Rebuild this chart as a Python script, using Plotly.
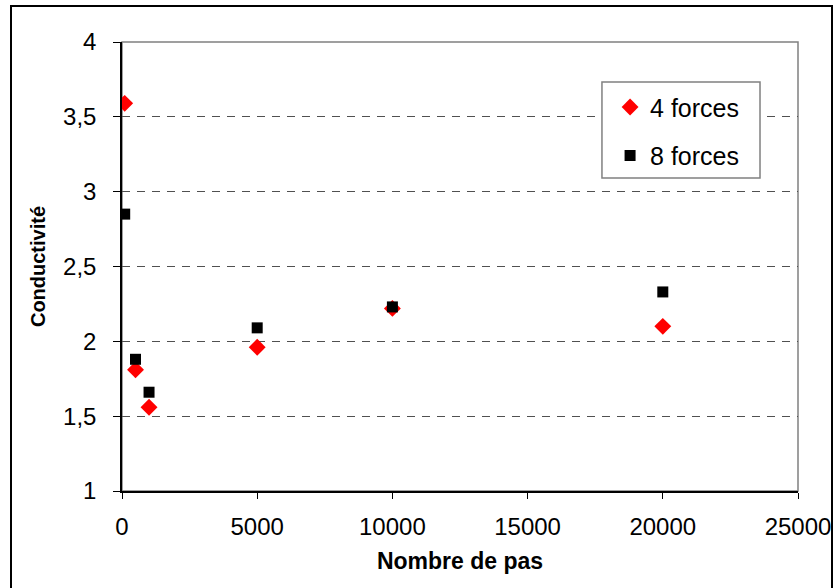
import plotly.graph_objects as go

# =============== data
pas = [100, 500, 1000, 5000, 10000, 20000]
cond_4f = [3.59, 1.81, 1.56, 1.96, 2.22, 2.10]
cond_8f = [2.85, 1.88, 1.66, 2.09, 2.23, 2.33]

y_tickvals = [1, 1.5, 2, 2.5, 3, 3.5, 4]
y_ticktext = ['1', '1,5', '2', '2,5', '3', '3,5', '4']
x_tickvals = [0, 5000, 10000, 15000, 20000, 25000]
x_ticktext = ['0', '5000', '10000', '15000', '20000', '25000']

# =============== colors
red = '#FF0000'
black = '#000000'
grey = '#808080'
dgrey = '#505050'
fnt = 'Liberation Sans, Arial, sans-serif'

fig = go.Figure()
fig.add_trace(go.Scatter(x=pas, y=cond_4f, mode='markers', name='4 forces', legendgroup='a',
                         marker=dict(symbol='diamond', size=13, color=red)))
fig.add_trace(go.Scatter(x=pas, y=cond_8f, mode='markers', name='8 forces', legendgroup='b',
                         marker=dict(symbol='square', size=11, color=black)))

# plot area border (grey), legend box, outer frame (black)
fig.add_shape(type='rect', xref='paper', yref='paper', x0=0, x1=1, y0=0, y1=1,
              line=dict(color=grey, width=1.5), layer='below')
fig.add_shape(type='rect', xref='paper', yref='paper', x0=0.710, x1=0.9438, y0=0.6971, y1=0.9109,
              line=dict(color=grey, width=1.5), fillcolor='white', layer='above')
fig.add_shape(type='rect', xref='paper', yref='paper', x0=-0.1642, x1=1.0503, y0=-0.25, y1=1.0802,
              line=dict(color=black, width=2))

# automargin off on x, otherwise the "25000" label pushes the right margin
fig.update_xaxes(range=[0, 25000], tickvals=x_tickvals, ticktext=x_ticktext, ticks='outside', ticklen=6,
                 tickcolor=black, showline=True, linecolor=black, linewidth=1.5, showgrid=False, zeroline=False,
                 tickfont=dict(size=24, color=black), ticklabelstandoff=7, automargin=False,
                 title=dict(text='<b>Nombre de pas</b>', font=dict(size=23, color=black), standoff=14))
fig.update_yaxes(range=[1, 4], tickvals=y_tickvals, ticktext=y_ticktext, ticks='outside', ticklen=7,
                 tickcolor=black, showline=True, linecolor=black, linewidth=1.5,
                 showgrid=True, gridcolor=dgrey, griddash='8px,7px', gridwidth=1.3, zeroline=False,
                 tickfont=dict(size=24, color=black), ticklabelstandoff=12,
                 title=dict(text='<b>Conductivité</b>', font=dict(size=20, color=black), standoff=12))

fig.update_layout(
    width=835, height=588, plot_bgcolor='white', paper_bgcolor='white',
    margin=dict(l=122, r=37, t=42, b=97),
    font=dict(family=fnt, color=black),
    legend=dict(x=0.722, y=0.906, xanchor='left', yanchor='top', bgcolor='rgba(0,0,0,0)',
                borderwidth=0, font=dict(size=25), tracegroupgap=13),
)

fig.write_html('out.html', config={'responsive': False, 'displayModeBar': False},
               post_script="document.body.style.margin='0';")
